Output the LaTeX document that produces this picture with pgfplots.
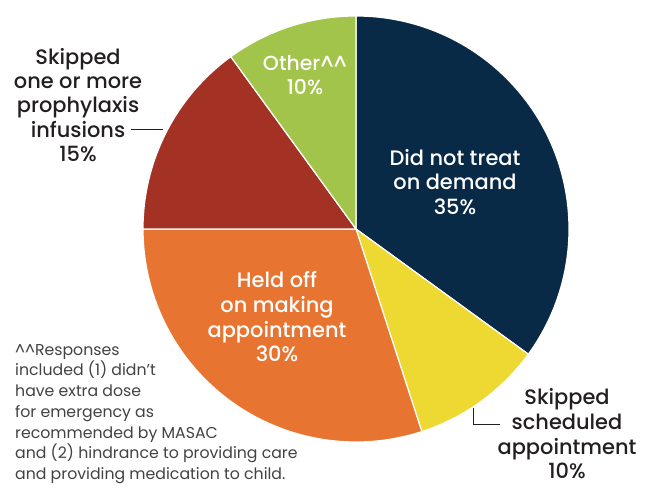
\documentclass[border=0pt]{standalone}
\usepackage{pgfplots}
\pgfplotsset{compat=1.18}
\usepackage{fontspec}
\setmainfont{Poppins}
\newfontfamily\medfont{Poppins Medium}
\definecolor{navy}{HTML}{082A47}
\definecolor{pyellow}{HTML}{EED832}
\definecolor{porange}{HTML}{E87431}
\definecolor{pred}{HTML}{A33124}
\definecolor{pgreen}{HTML}{A2C44A}
\definecolor{txt}{HTML}{231F20}
\begin{document}
\begin{tikzpicture}
\begin{axis}[
  width=647bp, height=491bp, scale only axis,
  xmin=0, xmax=647, ymin=0, ymax=491,
  hide axis, clip=false, enlargelimits=false]
\path (axis cs:0,0) rectangle (axis cs:647,491);
% shares in percent: 35, 10, 30, 15, 10 (clockwise from top)
\fill[navy, draw=white, line width=1.2bp] (axis cs:356,262) -- ++(90:213bp) arc[start angle=90, end angle={90-35*3.6}, radius=213bp] -- cycle;
\fill[pyellow, draw=white, line width=1.2bp] (axis cs:356,262) -- ++({90-35*3.6}:213bp) arc[start angle={90-35*3.6}, end angle={90-45*3.6}, radius=213bp] -- cycle;
\fill[porange, draw=white, line width=1.2bp] (axis cs:356,262) -- ++({90-45*3.6}:213bp) arc[start angle={90-45*3.6}, end angle={90-75*3.6}, radius=213bp] -- cycle;
\fill[pred, draw=white, line width=1.2bp] (axis cs:356,262) -- ++({90-75*3.6}:213bp) arc[start angle={90-75*3.6}, end angle={90-90*3.6}, radius=213bp] -- cycle;
\fill[pgreen, draw=white, line width=1.2bp] (axis cs:356,262) -- ++({90-90*3.6}:213bp) arc[start angle={90-90*3.6}, end angle={90-100*3.6}, radius=213bp] -- cycle;
% inside labels
\node[white, align=center, font=\medfont\fontsize{21}{25}\selectfont] at (axis cs:455,309) {Did not treat\\on demand\\35\%};
\node[white, align=center, font=\medfont\fontsize{20.5}{24.5}\selectfont] at (axis cs:305,416) {Other\textasciicircum\textasciicircum\\10\%};
\node[white, align=center, font=\medfont\fontsize{21}{24.8}\selectfont] at (axis cs:277,174) {Held off\\on making\\appointment\\30\%};
% outside labels
\node[txt, align=center, font=\medfont\fontsize{21}{24.5}\selectfont] at (axis cs:78,386) {Skipped\\one or more\\prophylaxis\\infusions\\15\%};
\node[txt, align=center, font=\medfont\fontsize{21}{24.8}\selectfont] at (axis cs:567,57) {Skipped\\scheduled\\appointment\\10\%};
\draw[txt, line width=1bp] (axis cs:131,361) -- (axis cs:163,361);
\draw[txt, line width=1bp] (axis cs:473,83) -- (axis cs:473,66) -- (axis cs:500,66);
% footnote
\node[txt!85, align=left, anchor=north west, inner sep=0pt, font=\fontsize{15.8}{20.8}\selectfont] at (axis cs:15,147) {\textasciicircum\textasciicircum Responses\\included (1) didn't\\have extra dose\\for emergency as\\recommended by MASAC\\and (2) hindrance to providing care\\and providing medication to child.};
\end{axis}
\end{tikzpicture}
\end{document}
